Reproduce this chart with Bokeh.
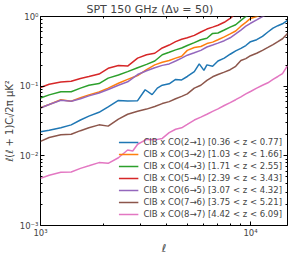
from bokeh.plotting import figure
from bokeh.models import FixedTicker, CustomJSTickFormatter, LogAxis, Legend, LegendItem
from bokeh.embed import file_html
from bokeh.resources import INLINE

# ---- data ----
ell_red = [1000, 1100, 1250, 1400, 1550, 1700, 1900, 2100, 2350, 2600, 2900, 3200, 3500,
           3800, 4100, 4400, 4700, 5000, 5400, 5800, 6200, 6600, 7000, 7500, 8000, 8500]
cl_red = [0.0959, 0.1066, 0.1144, 0.1173, 0.1292, 0.1377, 0.1491, 0.1807, 0.1976, 0.1945,
          0.2528, 0.2827, 0.2967, 0.3536, 0.3893, 0.4353, 0.4716, 0.4950, 0.5363, 0.5995,
          0.6598, 0.7035, 0.7499, 0.8254, 0.9381, 1.10]

ell_green = [1000, 1100, 1250, 1400, 1550, 1700, 1900, 2100, 2350, 2600, 2900, 3200, 3500,
             3800, 4100, 4400, 4700, 5000, 5400, 5800, 6200, 6600, 7000, 7500, 8000, 8500,
             9000, 9500, 10000]
cl_green = [0.0675, 0.0750, 0.0833, 0.0833, 0.0938, 0.1032, 0.1090, 0.1304, 0.1444, 0.1615,
            0.1836, 0.2054, 0.2297, 0.2827, 0.3062, 0.3318, 0.3536, 0.3831, 0.4217, 0.4642,
            0.4870, 0.5714, 0.5806, 0.6391, 0.7035, 0.7621, 0.8799, 1.0, 1.08]

ell_orange = [1000, 1100, 1250, 1400, 1550, 1700, 1900, 2100, 2350, 2600, 2900, 3200, 3500,
              3800, 4100, 4400, 4700, 5000, 5400, 5800, 6200, 6600, 7000, 7500, 8000, 8500,
              9000, 9500, 10000, 10700, 11400]
cl_orange = [0.0490, 0.0545, 0.0639, 0.0609, 0.0681, 0.0750, 0.0825, 0.0938, 0.1101, 0.1251,
             0.1422, 0.1722, 0.2020, 0.2203, 0.2333, 0.2528, 0.2695, 0.3266, 0.3594, 0.3711,
             0.4084, 0.4284, 0.4642, 0.5109, 0.5623, 0.6190, 0.7262, 0.8254, 0.9381, 1.0, 1.08]

ell_purple = [1000, 1100, 1250, 1400, 1550, 1700, 1900, 2100, 2350, 2600, 2900, 3200, 3500,
              3800, 4100, 4400, 4700, 5000, 5400, 5800, 6200, 6600, 7000, 7500, 8000, 8500,
              9000, 9500, 10000, 10700, 11400, 12100]
cl_purple = [0.0487, 0.0545, 0.0629, 0.0609, 0.0660, 0.0726, 0.0799, 0.0894, 0.1032, 0.1155,
             0.1468, 0.1668, 0.1836, 0.1989, 0.2087, 0.2297, 0.2528, 0.2783, 0.3014, 0.3266,
             0.3652, 0.3893, 0.4149, 0.4494, 0.4950, 0.5623, 0.6391, 0.7262, 0.7994, 0.8943,
             1.0, 1.08]

ell_blue = [1000, 1100, 1250, 1400, 1550, 1700, 1900, 2100, 2350, 2600, 2900, 3150, 3400,
            3600, 3800, 4100, 4400, 4700, 5000, 5400, 5700, 6000, 6200, 6600, 7000, 7500,
            8000, 8500, 9000, 9500, 10000, 10700, 11400, 12100, 12800, 13500, 14200, 15000]
cl_blue = [0.02224, 0.02334, 0.02528, 0.02783, 0.03266, 0.03711, 0.04217, 0.05061, 0.06248,
           0.06130, 0.06190, 0.08884, 0.07568, 0.09381, 0.1032, 0.1083, 0.1251, 0.1231,
           0.1377, 0.1615, 0.2087, 0.1684, 0.2020, 0.1926, 0.2297, 0.2528, 0.2873, 0.3213,
           0.3480, 0.3831, 0.4353, 0.4642, 0.5192, 0.5995, 0.6813, 0.7381, 0.7866, 0.8799]

ell_brown = [1000, 1100, 1250, 1400, 1550, 1700, 1900, 2100, 2350, 2600, 2900, 3200, 3500,
             3800, 4100, 4400, 4700, 5000, 5400, 5800, 6200, 6600, 7000, 7500, 8000, 8500,
             9000, 9500, 10000, 10700, 11400, 12100, 12800, 13500, 14200, 15000]
cl_brown = [0.01616, 0.01836, 0.02001, 0.02040, 0.02297, 0.02528, 0.02783, 0.02670, 0.03371,
            0.03956, 0.04354, 0.04686, 0.05109, 0.05623, 0.05995, 0.06600, 0.07148, 0.07743,
            0.09381, 0.1032, 0.1212, 0.1364, 0.1468, 0.1590, 0.1722, 0.1926, 0.2333, 0.2488,
            0.2738, 0.2967, 0.3266, 0.3594, 0.3956, 0.4353, 0.4792, 0.5714]

ell_pink = [1000, 1100, 1250, 1400, 1550, 1700, 1900, 2100, 2350, 2600, 2750, 2900, 3200,
            3500, 3800, 4100, 4400, 4700, 5000, 5400, 5800, 6200, 6600, 7000, 7500, 8000,
            8500, 9000, 9500, 10000, 10700, 11400, 12100, 12800, 13500, 14200, 15000]
cl_pink = [0.004747, 0.005275, 0.005806, 0.005862, 0.006600, 0.007193, 0.007992, 0.007815,
           0.009381, 0.01212, 0.01174, 0.01468, 0.01722, 0.01695, 0.01778, 0.02154, 0.02409,
           0.02528, 0.02827, 0.03266, 0.03594, 0.03956, 0.04354, 0.04716, 0.05275, 0.05806,
           0.06390, 0.07035, 0.07743, 0.08385, 0.09381, 0.1032, 0.1118, 0.1251, 0.1377,
           0.1516, 0.1976]

labels = [
    "CIB x CO(2\u21921) [0.36 < z < 0.77]",
    "CIB x CO(3\u21922) [1.03 < z < 1.66]",
    "CIB x CO(4\u21923) [1.71 < z < 2.55]",
    "CIB x CO(5\u21924) [2.39 < z < 3.43]",
    "CIB x CO(6\u21925) [3.07 < z < 4.32]",
    "CIB x CO(7\u21926) [3.75 < z < 5.21]",
    "CIB x CO(8\u21927) [4.42 < z < 6.09]",
]
colors = ["#1f77b4", "#ff7f0e", "#2ca02c", "#d62728", "#9467bd", "#8c564b", "#e377c2"]
series = [(ell_blue, cl_blue), (ell_orange, cl_orange), (ell_green, cl_green),
          (ell_red, cl_red), (ell_purple, cl_purple), (ell_brown, cl_brown),
          (ell_pink, cl_pink)]

x_major = [1000, 10000]
x_minor = [2000, 3000, 4000, 5000, 6000, 7000, 8000, 9000]
y_major = [0.001, 0.01, 0.1, 1.0]
y_minor = [m * d for d in (0.001, 0.01, 0.1) for m in range(2, 10)]

FONT = "DejaVu Sans"

p = figure(width=291, height=257, x_axis_type="log", y_axis_type="log",
           x_range=(1000, 15000), y_range=(1e-3, 1.0),
           output_backend="svg", toolbar_location=None,
           min_border_left=37, min_border_right=4, min_border_top=0, min_border_bottom=0)

p.title.text = "SPT 150 GHz (\u0394\u03bd = 50)"
p.title.text_font = FONT
p.title.text_font_size = "11px"
p.title.text_font_style = "normal"
p.title.align = "left"
p.title.offset = 46
p.title.standoff = 1

p.grid.visible = False
p.outline_line_color = "black"
p.outline_line_width = 1
p.background_fill_color = "white"

fmt = CustomJSTickFormatter(code="""
const sup = {"-":"\u207b","0":"\u2070","1":"\u00b9","2":"\u00b2","3":"\u00b3","4":"\u2074",
             "5":"\u2075","6":"\u2076","7":"\u2077","8":"\u2078","9":"\u2079"};
const e = Math.round(Math.log10(tick));
return "10" + String(e).split("").map(c => sup[c]).join("");
""")
blank_fmt = CustomJSTickFormatter(code="return '.';")

def style_axis(ax, ticks, minor, labels_on=True):
    ax.ticker = FixedTicker(ticks=ticks, minor_ticks=minor)
    ax.major_tick_in = 4
    ax.major_tick_out = 0
    ax.minor_tick_in = 2
    ax.minor_tick_out = 0
    ax.axis_line_color = None
    ax.major_tick_line_color = "black"
    ax.minor_tick_line_color = "black"
    if labels_on:
        ax.formatter = fmt
        ax.major_label_text_font = FONT
        ax.major_label_text_font_size = "8.5px"
        ax.major_label_standoff = 2
    else:
        ax.formatter = blank_fmt
        ax.major_label_text_font_size = "1px"
        ax.major_label_text_alpha = 0.0
        ax.major_label_standoff = 0

style_axis(p.xaxis[0], x_major, x_minor)
style_axis(p.yaxis[0], y_major, y_minor)
p.xaxis.axis_label = "\u2113"
p.xaxis.axis_label_text_font = FONT
p.xaxis.axis_label_text_font_size = "11px"
p.xaxis.axis_label_text_font_style = "italic"
p.xaxis.axis_label_standoff = 1
p.yaxis.axis_label = "\u2113(\u2113 + 1)C\u2097/2\u03c0 \u03bcK\u00b2"
p.yaxis.axis_label_text_font = FONT
p.yaxis.axis_label_text_font_size = "10px"
p.yaxis.axis_label_text_font_style = "normal"
p.yaxis.axis_label_standoff = 2

right_ax = LogAxis()
style_axis(right_ax, y_major, y_minor, labels_on=False)
p.add_layout(right_ax, "right")
top_ax = LogAxis()
style_axis(top_ax, x_major, x_minor, labels_on=False)
p.add_layout(top_ax, "above")

items = []
for (xs, ys), c, lab in zip(series, colors, labels):
    r = p.line(xs, ys, line_color=c, line_width=1.5)
    items.append(LegendItem(label=lab, renderers=[r]))

legend = Legend(items=items, location="bottom_right")
legend.label_text_font = FONT
legend.label_text_font_size = "8.5px"
legend.label_height = 12
legend.glyph_height = 12
legend.glyph_width = 20
legend.label_standoff = 5
legend.spacing = 0
legend.padding = 2
legend.margin = 5
legend.border_line_color = None
legend.background_fill_alpha = 0.0
p.add_layout(legend, "center")

open("out.html", "w").write(file_html(p, INLINE))
